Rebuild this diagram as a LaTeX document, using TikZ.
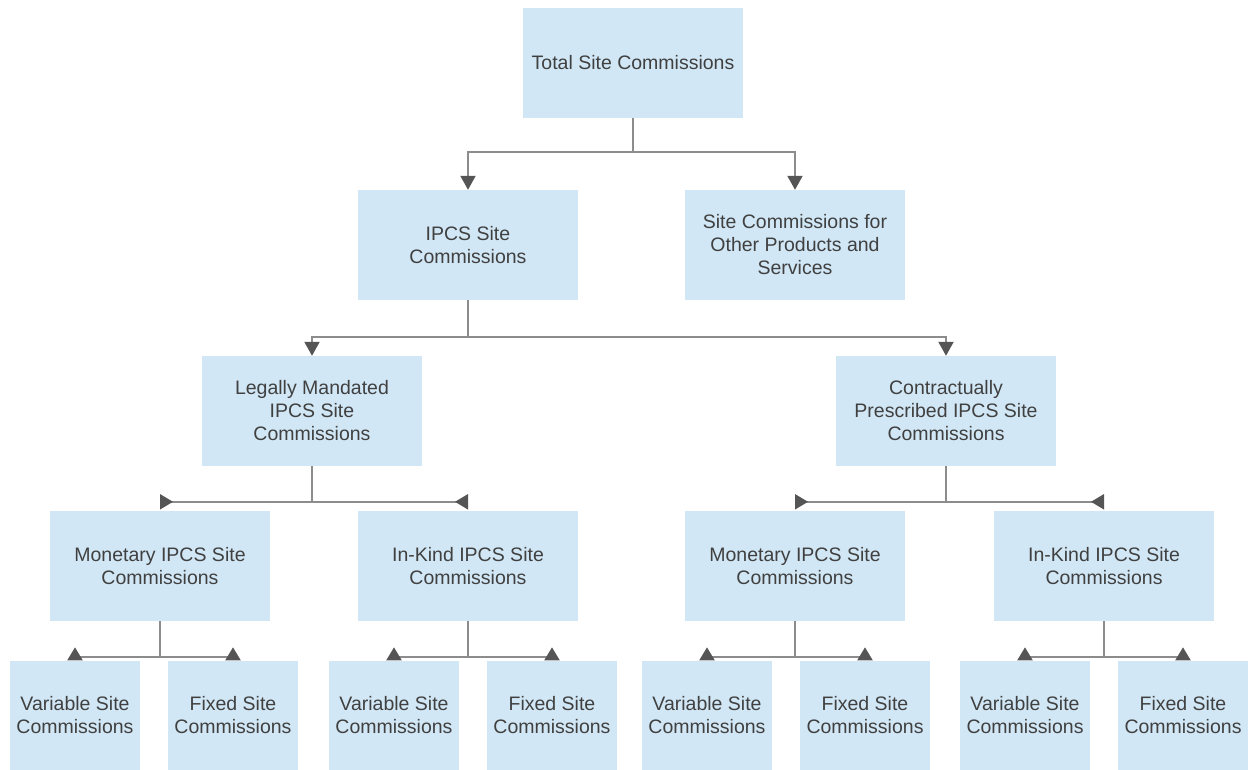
\documentclass[tikz,border=0pt]{standalone}
\usepackage{fontspec}
\setmainfont{Liberation Sans}
\usetikzlibrary{arrows.meta}
\definecolor{boxblue}{HTML}{D1E7F5}
\definecolor{txtgray}{HTML}{404040}
\definecolor{linegray}{HTML}{8C8C8C}
\definecolor{tipgray}{HTML}{555555}

\begin{document}
\begin{tikzpicture}[x=1pt,y=-1pt,
  box/.style={fill=boxblue,text=txtgray,align=center,minimum width=220pt,
    minimum height=110pt,inner sep=0pt,font=\fontsize{19.5}{23}\selectfont},
  leaf/.style={box,minimum width=130pt},
  link/.style={draw=linegray,line width=2pt},
  downtip/.style={link,-{Triangle[width=15pt,length=14pt,color=tipgray]}},
  backtip/.style={link,-{Triangle[reversed,width=15pt,length=13pt,color=tipgray]}}
  ]
  \useasboundingbox (0,0) rectangle (1250,770);

  \node[box] (total) at (633,63) {Total Site Commissions};
  \node[box] (ipcs) at (468,245) {IPCS Site\\Commissions};
  \node[box] (other) at (795,245) {Site Commissions for\\Other Products and\\Services};
  \node[box] (legal) at (312,411) {Legally Mandated\\IPCS Site\\Commissions};
  \node[box] (contract) at (946,411) {Contractually\\Prescribed IPCS Site\\Commissions};
  \node[box] (monA) at (160,566) {Monetary IPCS Site\\Commissions};
  \node[box] (kindA) at (468,566) {In-Kind IPCS Site\\Commissions};
  \node[box] (monB) at (795,566) {Monetary IPCS Site\\Commissions};
  \node[box] (kindB) at (1104,566) {In-Kind IPCS Site\\Commissions};
  % leaves
  \node[leaf] (varA) at (75,715.5) {Variable Site\\Commissions};
  \node[leaf] (fixA) at (233,715.5) {Fixed Site\\Commissions};
  \node[leaf] (varB) at (394,715.5) {Variable Site\\Commissions};
  \node[leaf] (fixB) at (552,715.5) {Fixed Site\\Commissions};
  \node[leaf] (varC) at (707,715.5) {Variable Site\\Commissions};
  \node[leaf] (fixC) at (865,715.5) {Fixed Site\\Commissions};
  \node[leaf] (varD) at (1025,715.5) {Variable Site\\Commissions};
  \node[leaf] (fixD) at (1183,715.5) {Fixed Site\\Commissions};

  \draw[downtip] (total.south) -- ++(0,34) -| (ipcs.north);
  \draw[downtip] (total.south) -- ++(0,34) -| (other.north);
  \draw[downtip] (ipcs.south) -- ++(0,37) -| (legal.north);
  \draw[downtip] (ipcs.south) -- ++(0,37) -| (contract.north);

  \draw[backtip] (legal.south) |- ([yshift=9pt]monA.north);
  \draw[backtip] (legal.south) |- ([yshift=9pt]kindA.north);
  \draw[backtip] (contract.south) |- ([yshift=9pt]monB.north);
  \draw[backtip] (contract.south) |- ([yshift=9pt]kindB.north);

  \draw[backtip] (monA.south) -- ++(0,36) -| (varA.north);
  \draw[backtip] (monA.south) -- ++(0,36) -| (fixA.north);
  \draw[backtip] (kindA.south) -- ++(0,36) -| (varB.north);
  \draw[backtip] (kindA.south) -- ++(0,36) -| (fixB.north);
  \draw[backtip] (monB.south) -- ++(0,36) -| (varC.north);
  \draw[backtip] (monB.south) -- ++(0,36) -| (fixC.north);
  \draw[backtip] (kindB.south) -- ++(0,36) -| (varD.north);
  \draw[backtip] (kindB.south) -- ++(0,36) -| (fixD.north);
\end{tikzpicture}
\end{document}
